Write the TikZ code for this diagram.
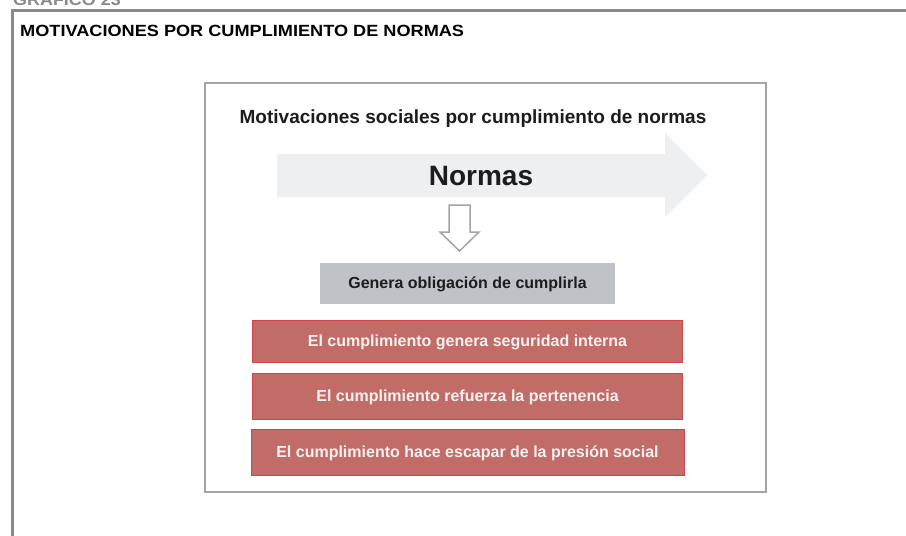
\documentclass[tikz,border=0pt]{standalone}
\usepackage{fontspec}
\setmainfont{Liberation Sans}
\newfontfamily\widefont[FakeStretch=1.12]{Liberation Sans}
\usetikzlibrary{positioning}

\definecolor{framegray}{HTML}{8A8A8A}
\definecolor{linegray}{HTML}{A2A5A8}
\definecolor{arrowgray}{HTML}{EEEFF1}
\definecolor{normgray}{HTML}{BFC3C8}
\definecolor{redfill}{HTML}{C26C68}
\definecolor{redline}{HTML}{D0454C}
\definecolor{redtext}{HTML}{F8F1F1}
\definecolor{darktext}{HTML}{1C1C1C}

\begin{document}
\begin{tikzpicture}[x=1pt, y=-1pt, inner sep=0pt,
                    gray node/.style={fill=normgray,minimum width=295pt,minimum height=41pt,
                      text height=11.5pt,text depth=0pt,text=darktext,font=\fontsize{16}{18}\selectfont\bfseries},
                    red node/.style={fill=redfill,draw=redline,line width=1pt,minimum width=430pt,minimum height=46pt,
                      text height=11.5pt,text depth=0pt,text=redtext,font=\fontsize{16}{18}\selectfont\bfseries}]

  \useasboundingbox (0,0) rectangle (906,536);
  \fill[white] (0,0) rectangle (906,536);

  % outer frame and heading
  \node[anchor=base west,text=framegray,font=\widefont\fontsize{16}{18}\selectfont\bfseries] (grafico) at (13,5) {GRÁFICO 23};
  \draw[framegray,line width=2.5pt] (12.5,536) -- (12.5,10.5) -- (906,10.5);
  \node[anchor=base west,text=black,font=\widefont\fontsize{16.2}{18}\selectfont\bfseries] (titulo) at (20,36) {MOTIVACIONES POR CUMPLIMIENTO DE NORMAS};

  % inner panel
  \draw[linegray,line width=1.2pt] (205,83) rectangle (766,492);
  \node[text=darktext,text height=13.6pt,text depth=0pt,font=\fontsize{19}{22}\selectfont\bfseries] (sub) at (473,116.6) {Motivaciones sociales por cumplimiento de normas};

  % big arrow
  \fill[arrowgray] (277,154) -- (665,154) -- (665,133) -- (707,175) -- (665,217) -- (665,197) -- (277,197) -- cycle;
  \node[text=darktext,text height=20pt,text depth=0pt,font=\fontsize{28}{30}\selectfont\bfseries] (normas) at (481,175.5) {Normas};

  % small down arrow
  \draw[linegray,line width=1.5pt,fill=white,line join=miter]
    (449,205) -- (470,205) -- (470,232) -- (479,232) -- (459.5,251) -- (440,232) -- (449,232) -- cycle;

  \node[gray node] (1) at (467.5,283) {Genera obligación de cumplirla};
  \node[red node,minimum height=42pt] (2) [below=16pt of 1] {El cumplimiento genera seguridad interna};
  \node[red node] (3) [below=10pt of 2] {El cumplimiento refuerza la pertenencia};
  \node[red node,minimum width=433pt] (4) [below=9pt of 3] {El cumplimiento hace escapar de la presión social};

\end{tikzpicture}
\end{document}
